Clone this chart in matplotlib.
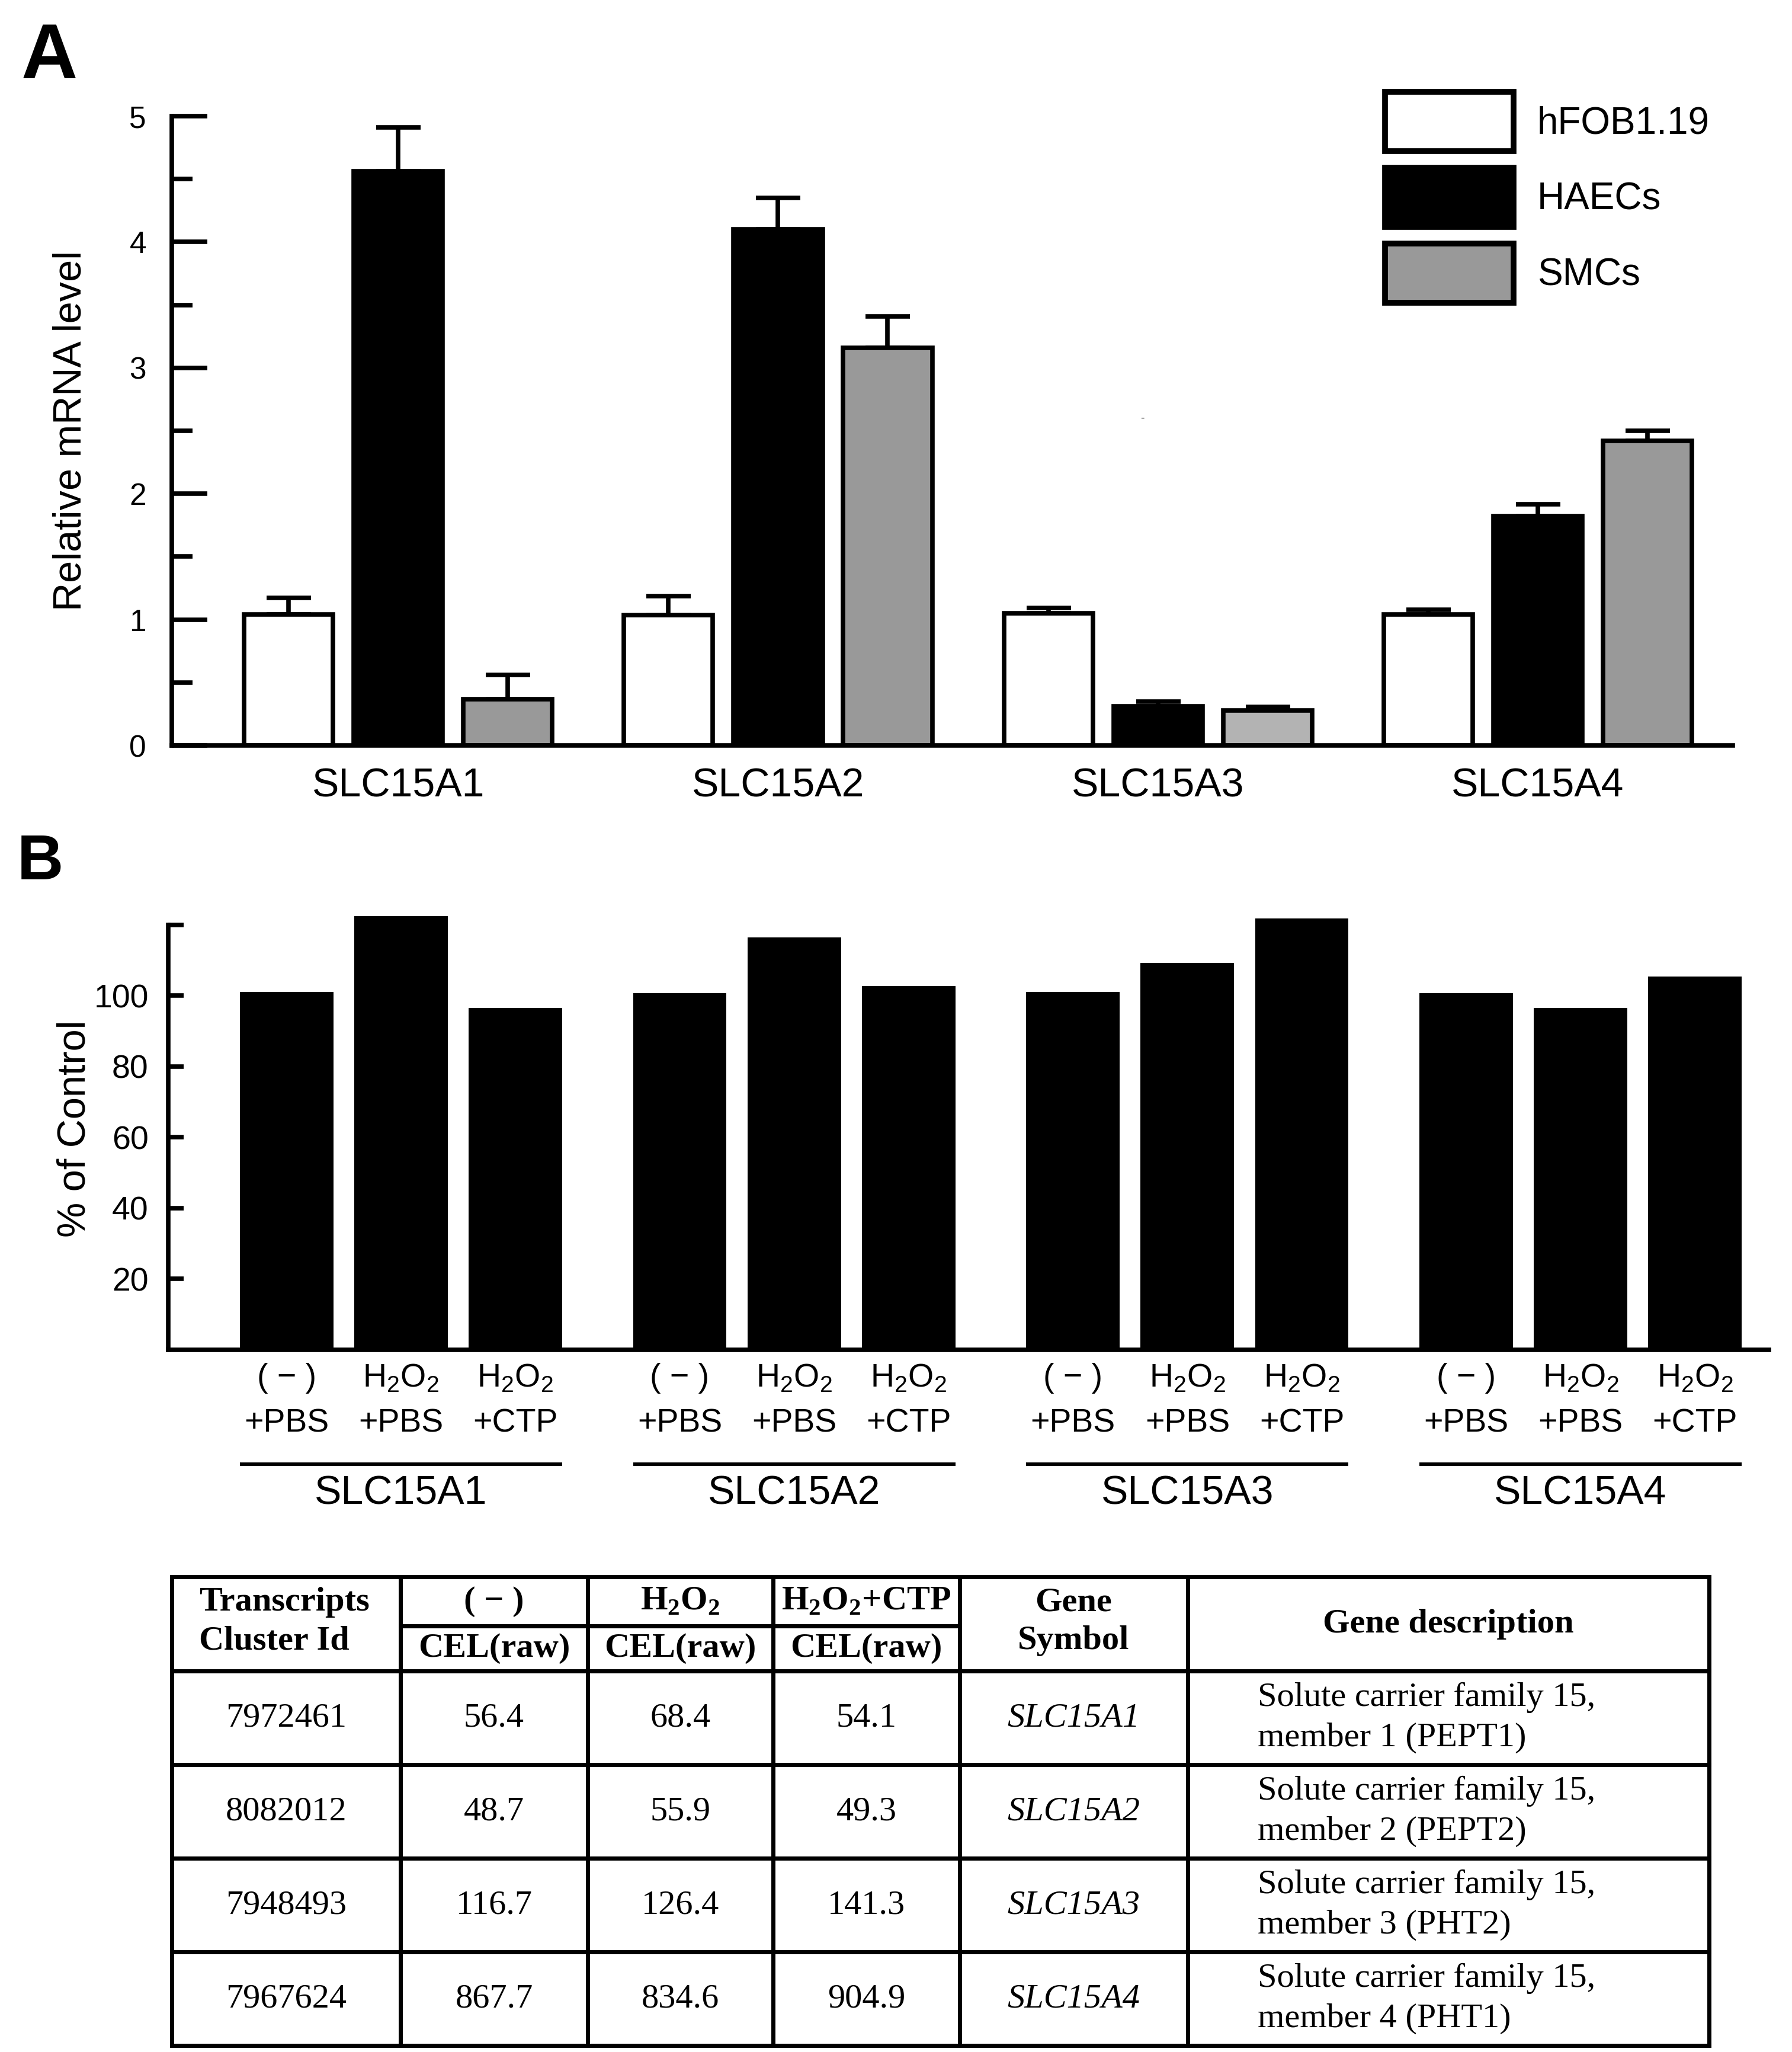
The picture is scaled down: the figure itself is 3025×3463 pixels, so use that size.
import matplotlib
matplotlib.use('Agg')
import matplotlib.pyplot as plt
import matplotlib.patches as mpatches
import numpy as np

# ---- data: panel A (relative mRNA level, mean + upper SD) ----
genes = ['SLC15A1', 'SLC15A2', 'SLC15A3', 'SLC15A4']
cell_lines = ['hFOB1.19', 'HAECs', 'SMCs']
hfob = [1.04, 1.035, 1.05, 1.04]
hfob_err = [0.13, 0.15, 0.04, 0.04]
haec = [4.56, 4.10, 0.31, 1.82]
haec_err = [0.35, 0.25, 0.04, 0.095]
smc = [0.365, 3.16, 0.28, 2.42]
smc_err = [0.195, 0.25, 0.025, 0.08]

# ---- data: panel B (% of control) ----
treatments = ['( \u2212 )\n+PBS', r'H$_\mathrm{2}$O$_\mathrm{2}$' + '\n+PBS',
              r'H$_\mathrm{2}$O$_\mathrm{2}$' + '\n+CTP']
ctrl_pbs = [101.0, 100.8, 101.1, 100.8]
h2o2_pbs = [122.5, 116.4, 109.2, 96.6]
h2o2_ctp = [96.6, 102.7, 121.8, 105.4]

# ---- data: table ----
cluster_ids = ['7972461', '8082012', '7948493', '7967624']
cel_ctrl = [56.4, 48.7, 116.7, 867.7]
cel_h2o2 = [68.4, 55.9, 126.4, 834.6]
cel_ctp = [54.1, 49.3, 141.3, 904.9]
gene_desc = ['Solute carrier family 15,\nmember 1 (PEPT1)',
             'Solute carrier family 15,\nmember 2 (PEPT2)',
             'Solute carrier family 15,\nmember 3 (PHT2)',
             'Solute carrier family 15,\nmember 4 (PHT1)']

plt.rcParams['font.family'] = ['Liberation Sans', 'DejaVu Sans']
plt.rcParams['mathtext.fontset'] = 'custom'
plt.rcParams['mathtext.rm'] = 'Liberation Sans'
plt.rcParams['mathtext.bf'] = 'Liberation Serif:bold'
SERIF = ['Liberation Serif', 'DejaVu Serif']
LW = 5.5

W, H = 3025, 3463
fig = plt.figure(figsize=(W / 100, H / 100), dpi=100)
x = np.arange(len(genes))

# ================= Panel A =================
axA = fig.add_axes([290 / W, 1 - 1258 / H, (2925 - 290) / W, (1258 - 196) / H])
off, w = 0.2885, 0.234
smc_colors = ['#999999', '#999999', '#b3b3b3', '#999999']
series = [(hfob, hfob_err, 'white'), (haec, haec_err, 'black'), (smc, smc_err, smc_colors)]
for i, (vals, errs, col) in enumerate(series):
    pos = x + (i - 1) * off
    axA.errorbar(pos, vals, yerr=[np.zeros(len(vals)), errs], fmt='none', ecolor='black',
                 elinewidth=LW, capsize=27, capthick=LW, zorder=1)
    axA.bar(pos, vals, width=w, color=col, edgecolor='black', linewidth=LW, zorder=2)

axA.set_xlim(-0.596, 3.513)
axA.set_ylim(0, 5)
for s in ['top', 'right']:
    axA.spines[s].set_visible(False)
for s in ['left', 'bottom']:
    axA.spines[s].set_linewidth(LW)
axA.set_yticks(range(6))
axA.set_yticks(np.arange(0.5, 5, 1), minor=True)
axA.tick_params(axis='y', which='major', direction='in', length=43, width=LW, labelsize=37, pad=31)
axA.tick_params(axis='y', which='minor', direction='in', length=25, width=LW)
axA.set_xticks(x)
axA.set_xticklabels(genes)
axA.tick_params(axis='x', length=0, labelsize=49, pad=26)
axA.set_ylabel('Relative mRNA level', fontsize=48)
axA.yaxis.set_label_coords(-0.053, 0.5)

handles = [mpatches.Patch(facecolor=c, edgecolor='black', linewidth=7)
           for c in ['white', 'black', '#999999']]
axA.legend(handles, cell_lines, loc='upper left', bbox_to_anchor=(2338 / W, 1 - 155 / H),
           bbox_transform=fig.transFigure, frameon=False, fontsize=46,
           handlelength=3.4, handleheight=2.03, labelspacing=0.44, handletextpad=0.62,
           borderpad=0, borderaxespad=0)

fig.text(1928 / W, 1 - 706 / H, '-', fontsize=14, ha='center', va='center')
fig.text(36 / W, 1 - 132 / H, 'A', fontsize=95, fontweight='bold',
         family=['Liberation Sans Narrow', 'Liberation Sans'], va='baseline', ha='left')

# ================= Panel B =================
axB = fig.add_axes([284 / W, 1 - 2278 / H, (2986 - 284) / W, 747 / H])
offB, wB = 0.291, 0.238
for i, vals in enumerate([ctrl_pbs, h2o2_pbs, h2o2_ctp]):
    axB.bar(x + (i - 1) * offB, vals, width=wB, color='black', linewidth=0)

axB.set_xlim(-0.592, 3.479)
axB.set_ylim(0, 125)
for s in ['top', 'right']:
    axB.spines[s].set_visible(False)
for s in ['left', 'bottom']:
    axB.spines[s].set_linewidth(LW)
axB.spines['left'].set_bounds(0, 120)
axB.set_yticks([20, 40, 60, 80, 100, 120])
axB.set_yticklabels(['20', '40', '60', '80', '100', ''])
axB.tick_params(axis='y', direction='in', length=19, width=LW, labelsize=40, pad=24)

tick_pos = np.concatenate([xi + (np.arange(3) - 1) * offB for xi in x])
axB.set_xticks(tick_pos)
axB.set_xticklabels(treatments * len(genes))
axB.tick_params(axis='x', length=0, labelsize=40, pad=16)
for lab in axB.get_xticklabels():
    lab.set_linespacing(1.6)

trans = axB.get_xaxis_transform()
for xi, g in zip(x, genes):
    left = xi - offB - wB / 2
    right = xi + offB + wB / 2
    axB.plot([left, right], [-0.258, -0.258], transform=trans, color='black', lw=4.3,
             clip_on=False, solid_capstyle='butt')
    axB.text(xi, -0.325, g, transform=trans, ha='center', va='center', fontsize=49)

axB.set_ylabel('% of Control', fontsize=48)
axB.yaxis.set_label_coords(-0.047, 0.5)

fig.text(29 / W, 1 - 1484 / H, 'B', fontsize=78, fontweight='bold', va='baseline', ha='left')

# ================= Table =================
axT = fig.add_axes([0, 0, 1, 1], zorder=-1)
axT.set_xlim(0, W)
axT.set_ylim(H, 0)
axT.axis('off')

col_edges = [290, 676, 992, 1305, 1620, 2005, 2885]
row_edges = [2661, 2820, 2978, 3136, 3294, 3452]
sub_y = 2744
TLW = 5
for yy in row_edges:
    axT.plot([col_edges[0], col_edges[-1]], [yy, yy], color='black', lw=TLW, solid_capstyle='projecting')
for xx in col_edges:
    axT.plot([xx, xx], [row_edges[0], row_edges[-1]], color='black', lw=TLW, solid_capstyle='projecting')
axT.plot([col_edges[1], col_edges[4]], [sub_y, sub_y], color='black', lw=TLW)

cx = [(a + b) / 2 for a, b in zip(col_edges[:-1], col_edges[1:])]
FS = 42
hdr = dict(family=SERIF, fontsize=FS, fontweight='bold', va='center')
top_mid = (row_edges[0] + sub_y) / 2
bot_mid = (sub_y + row_edges[1]) / 2
h2o2_bold = r'H$_\mathbf{2}$O$_\mathbf{2}$'
axT.text(336, 2704, 'Transcripts', ha='left', **hdr)
axT.text(336, 2769, 'Cluster Id', ha='left', **hdr)
for c, lab in zip(cx[1:4], ['( \u2212 )', h2o2_bold, h2o2_bold + '+CTP']):
    axT.text(c, top_mid, lab, ha='center', **hdr)
    axT.text(c, bot_mid, 'CEL(raw)', ha='center', **hdr)
axT.text(cx[4], 2704, 'Gene', ha='center', **hdr)
axT.text(cx[4], 2769, 'Symbol', ha='center', **hdr)
axT.text(cx[5], (row_edges[0] + row_edges[1]) / 2, 'Gene description', ha='center', **hdr)

body = dict(family=SERIF, fontsize=FS, va='center')
for r in range(len(cluster_ids)):
    yc = (row_edges[r + 1] + row_edges[r + 2]) / 2
    axT.text(cx[0], yc, cluster_ids[r], ha='center', **body)
    for c, vals in zip(cx[1:4], [cel_ctrl, cel_h2o2, cel_ctp]):
        axT.text(c, yc, f'{vals[r]:.1f}', ha='center', **body)
    axT.text(cx[4], yc, genes[r], ha='center', style='italic', **body)
    l1, l2 = gene_desc[r].split('\n')
    axT.text(2123, yc - 34, l1, ha='left', **body)
    axT.text(2123, yc + 34, l2, ha='left', **body)

fig.savefig('out.png', dpi=100)
